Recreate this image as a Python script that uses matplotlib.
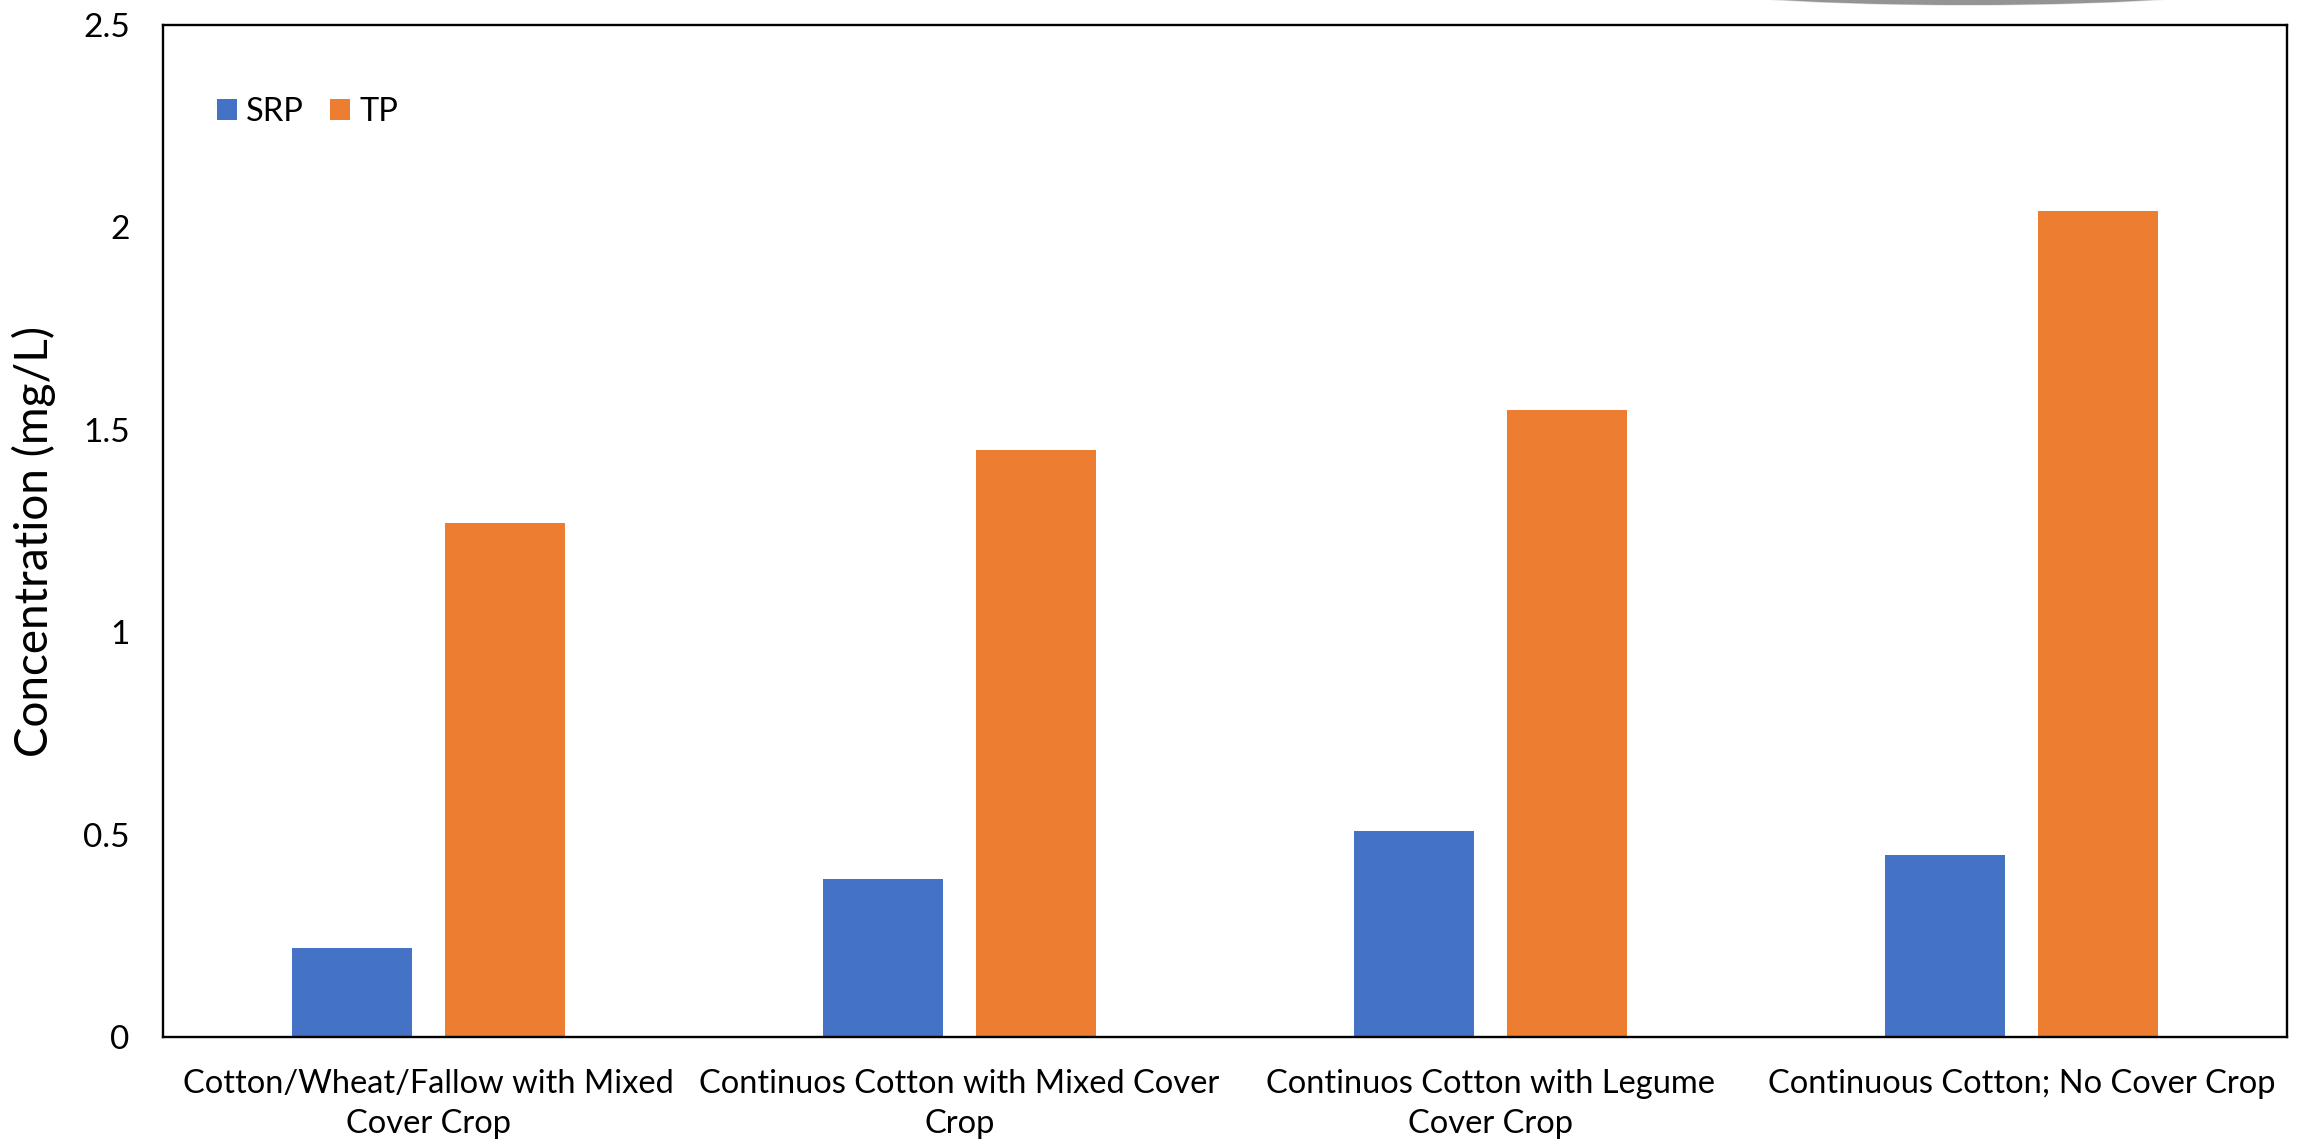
import matplotlib
matplotlib.use("Agg")
import matplotlib.pyplot as plt
from matplotlib.patches import Ellipse
import numpy as np

plt.rcParams['font.family'] = ['Lato', 'DejaVu Sans']

categories = [
    "Cotton/Wheat/Fallow with Mixed\nCover Crop",
    "Continuos Cotton with Mixed Cover\nCrop",
    "Continuos Cotton with Legume\nCover Crop",
    "Continuous Cotton; No Cover Crop",
]
srp = [0.22, 0.39, 0.51, 0.45]
tp = [1.27, 1.45, 1.55, 2.04]
yticks = [0, 0.5, 1, 1.5, 2, 2.5]
ytick_labels = ["0", "0.5", "1", "1.5", "2", "2.5"]

BLUE = "#4472C4"
ORANGE = "#ED7D31"

W, H, DPI = 2297, 1146, 100
fig = plt.figure(figsize=(W / DPI, H / DPI), dpi=DPI)
ax = fig.add_axes([163 / W, 1 - 1037 / H, 2124 / W, 1012 / H])

x = np.arange(len(categories))
bw = 0.226
off = 0.144
ax.bar(x - off, srp, width=bw, color=BLUE, label="SRP", zorder=2)
ax.bar(x + off, tp, width=bw, color=ORANGE, label="TP", zorder=2)

ax.set_xlim(-0.5, len(categories) - 0.5)
ax.set_ylim(0, 2.5)
ax.set_yticks(yticks)
ax.set_yticklabels(ytick_labels)
ax.set_xticks(x)
ax.set_xticklabels(categories, linespacing=1.42)

ax.tick_params(axis='y', length=0, pad=24, labelsize=24, colors='black')
ax.tick_params(axis='x', length=0, pad=23, labelsize=23.5, colors='black')

for s in ax.spines.values():
    s.set_color('black')
    s.set_linewidth(1.7)

ax.set_ylabel("Concentration (mg/L)", fontsize=33)
ax.yaxis.set_label_coords(-0.0504, 0.49)

leg = ax.legend(loc='center left', bbox_to_anchor=(0.0254, 0.914), ncol=2,
                frameon=False, fontsize=23.5, handlelength=0.6, handleheight=0.6,
                handletextpad=0.3, columnspacing=0.8, borderpad=0, borderaxespad=0)

# soft grey shape peeking in at the top edge
for w, h, a in [(640, 51, 0.35), (620, 50, 1.0)]:
    fig.patches.append(Ellipse((1967 / W, 1 + 20 / H), w / W, h / H,
                               transform=fig.transFigure, color="#949494",
                               alpha=a, lw=0, zorder=0))

fig.savefig("out.png", dpi=DPI)
